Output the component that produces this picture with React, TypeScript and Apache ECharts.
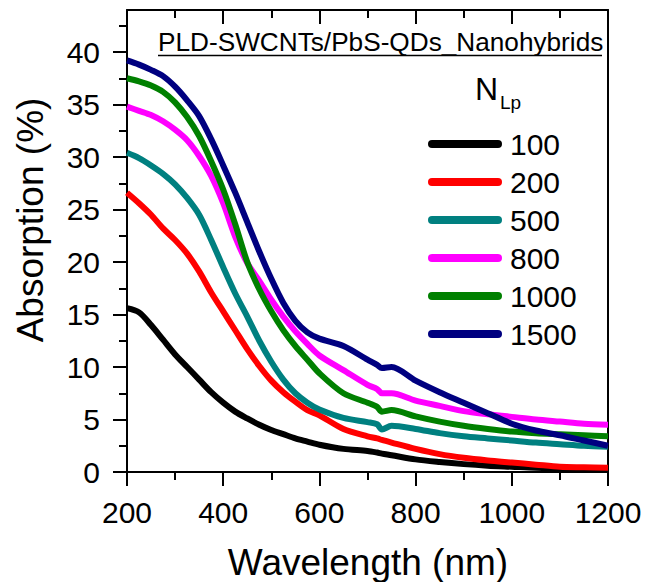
import React, { useEffect, useRef } from "react";
import * as echarts from "echarts";

const wavelengths = [200, 225, 250, 275, 300, 325, 350, 375, 400, 425, 450, 475, 500, 525, 550, 575, 600, 650, 700, 720, 730, 750, 800, 850, 900, 950, 1000, 1050, 1100, 1150, 1200];

const n100 = [15.6, 15.2, 14.0, 12.6, 11.2, 10.0, 8.8, 7.6, 6.6, 5.75, 5.1, 4.5, 4.0, 3.6, 3.2, 2.9, 2.6, 2.2, 2.0, 1.85, 1.75, 1.6, 1.2, 0.95, 0.75, 0.6, 0.5, 0.4, 0.35, 0.3, 0.3];
const n200 = [26.6, 25.6, 24.5, 23.2, 22.1, 20.8, 19.1, 17.1, 15.3, 13.5, 11.7, 10.1, 8.7, 7.6, 6.7, 5.9, 5.4, 4.1, 3.4, 3.2, 3.05, 2.8, 2.2, 1.7, 1.35, 1.1, 0.9, 0.7, 0.5, 0.45, 0.4];
const n500 = [30.4, 29.9, 29.2, 28.4, 27.4, 26.1, 24.5, 22.1, 19.5, 17.0, 14.8, 12.5, 10.5, 8.8, 7.5, 6.6, 5.95, 5.15, 4.75, 4.55, 4.05, 4.4, 4.1, 3.7, 3.4, 3.2, 3.0, 2.8, 2.65, 2.5, 2.4];
const n800 = [34.8, 34.4, 34.0, 33.4, 32.6, 31.6, 30.1, 28.2, 25.6, 22.4, 19.9, 18.2, 16.4, 14.8, 13.4, 12.2, 11.1, 9.7, 8.3, 7.9, 7.5, 7.5, 6.8, 6.3, 5.8, 5.5, 5.25, 5.0, 4.8, 4.6, 4.5];
const n1000 = [37.5, 37.2, 36.8, 36.2, 35.2, 33.8, 32.0, 29.6, 26.9, 23.6, 20.0, 17.4, 15.3, 13.5, 12.0, 10.7, 9.4, 7.5, 6.6, 6.2, 5.75, 5.9, 5.3, 4.8, 4.4, 4.1, 3.85, 3.7, 3.6, 3.5, 3.4];
const n1500 = [39.2, 38.8, 38.3, 37.7, 36.7, 35.4, 33.9, 31.7, 29.2, 26.6, 23.8, 21.0, 18.4, 16.1, 14.4, 13.3, 12.7, 12.0, 10.7, 10.2, 9.9, 10.0, 8.7, 7.6, 6.6, 5.6, 4.6, 3.95, 3.5, 3.0, 2.5];

const seriesNames = ["100", "200", "500", "800", "1000", "1500"];
const seriesColors = ["#000000", "#ff0000", "#008080", "#ff00ff", "#008000", "#000080"];
const seriesValues = [n100, n200, n500, n800, n1000, n1500];

const yMajorTicks = [0, 5, 10, 15, 20, 25, 30, 35, 40];
const yMinorTicks = [2.5, 7.5, 12.5, 17.5, 22.5, 27.5, 32.5, 37.5, 42.5];

const FONT = "'Liberation Sans', Arial, sans-serif";

export default function App() {
  const ref = useRef<HTMLDivElement>(null);
  useEffect(() => {
    document.body.style.margin = "0";
    if (!ref.current) return;
    const chart = echarts.init(ref.current, null, { renderer: "svg" });
    const axisLineStyle = { color: "#000", width: 2 };
    const option: any = {
      animation: false,
      backgroundColor: "#ffffff",
      grid: { left: 127, right: 41, top: 10, bottom: 110, containLabel: false, outerBoundsMode: "none" },
      legend: {
        orient: "vertical",
        left: 428,
        top: 129,
        padding: 0,
        itemWidth: 74,
        itemHeight: 8,
        itemGap: 8,
        icon: "path://M4,0 L70,0 A4,4 0 0 1 70,8 L4,8 A4,4 0 0 1 4,0 Z",
        textStyle: { fontSize: 30, lineHeight: 30, color: "#000", fontFamily: FONT, padding: [0, 0, 0, 3] },
        data: seriesNames,
      },
      xAxis: [
        {
          type: "value",
          min: 200,
          max: 1200,
          interval: 200,
          position: "bottom",
          axisLine: { show: true, lineStyle: axisLineStyle },
          axisTick: { show: true, length: 14, lineStyle: axisLineStyle },
          minorTick: { show: true, splitNumber: 2, length: 8, lineStyle: { color: "#000", width: 2 } },
          axisLabel: { fontSize: 30, margin: 25, color: "#000", fontFamily: FONT, formatter: (v: number) => String(v) },
          splitLine: { show: false },
          minorSplitLine: { show: false },
        },
        {
          type: "value",
          min: 200,
          max: 1200,
          interval: 200,
          position: "top",
          axisLine: { show: true, onZero: false, lineStyle: axisLineStyle },
          axisTick: { show: true, inside: true, length: 14, lineStyle: axisLineStyle },
          minorTick: { show: true, splitNumber: 2, length: 8, lineStyle: { color: "#000", width: 2 } },
          axisLabel: { show: false },
          splitLine: { show: false },
          minorSplitLine: { show: false },
        },
      ],
      yAxis: [
        {
          type: "value",
          min: 0,
          max: 44,
          position: "left",
          axisLine: { show: true, lineStyle: axisLineStyle },
          axisTick: { show: true, length: 14, lineStyle: axisLineStyle, customValues: yMajorTicks },
          axisLabel: { fontSize: 30, margin: 27, color: "#000", fontFamily: FONT, customValues: yMajorTicks, formatter: (v: number) => String(v) },
          splitLine: { show: false },
        },
        {
          type: "value",
          min: 0,
          max: 44,
          position: "left",
          axisLine: { show: false },
          axisTick: { show: true, length: 8, lineStyle: axisLineStyle, customValues: yMinorTicks },
          axisLabel: { show: false, customValues: yMinorTicks },
          splitLine: { show: false },
        },
        {
          type: "value",
          min: 0,
          max: 44,
          position: "right",
          axisLine: { show: true, onZero: false, lineStyle: axisLineStyle },
          axisTick: { show: false },
          axisLabel: { show: false },
          splitLine: { show: false },
        },
      ],
      series: seriesNames.map((name, i) => ({
        name,
        type: "line",
        xAxisIndex: 0,
        yAxisIndex: 0,
        data: wavelengths.map((w, j) => [w, seriesValues[i][j]]),
        showSymbol: false,
        smooth: 0.3,
        color: seriesColors[i],
        lineStyle: { color: seriesColors[i], width: 6 },
        itemStyle: { color: seriesColors[i] },
      })),
      graphic: [
        {
          type: "text",
          left: 158,
          top: 29,
          style: { text: "PLD-SWCNTs/PbS-QDs_Nanohybrids", fontSize: 26.2, fill: "#000", fontFamily: FONT },
        },
        {
          type: "line",
          shape: { x1: 158, y1: 55.5, x2: 602, y2: 55.5 },
          style: { stroke: "#000", lineWidth: 1.5 },
        },
        {
          type: "text",
          x: 475,
          y: 88.5,
          style: { text: "N", fontSize: 32, fill: "#000", fontFamily: FONT, verticalAlign: "middle", align: "left" },
        },
        {
          type: "text",
          x: 500,
          y: 102,
          style: { text: "Lp", fontSize: 19, fill: "#000", fontFamily: FONT, verticalAlign: "middle", align: "left" },
        },
        {
          type: "text",
          x: 368,
          y: 562,
          style: { text: "Wavelength (nm)", fontSize: 37, fill: "#000", fontFamily: FONT, align: "center", verticalAlign: "middle" },
        },
        {
          type: "text",
          x: 30,
          y: 220,
          rotation: Math.PI / 2,
          style: { text: "Absorption (%)", fontSize: 37, fill: "#000", fontFamily: FONT, align: "center", verticalAlign: "middle" },
        },
      ],
    };
    chart.setOption(option);
    return () => chart.dispose();
  }, []);
  return <div ref={ref} style={{ width: 649, height: 582 }} />;
}
